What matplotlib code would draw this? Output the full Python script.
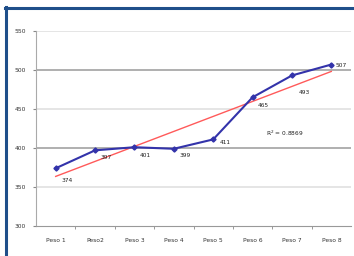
import numpy as np
import matplotlib
matplotlib.use("Agg")
from matplotlib import pyplot as plt
from matplotlib.lines import Line2D

# data
labels = ["Peso 1", "Peso2", "Peso 3", "Peso 4", "Peso 5", "Peso 6", "Peso 7", "Peso 8"]
values = [374, 397, 401, 399, 411, 465, 493, 507]
y_ticks = [300, 350, 400, 450, 500, 550]

x = np.arange(1, len(values) + 1)
y = np.array(values, dtype=float)

# linear trend line + R^2
slope, icpt = np.polyfit(x, y, 1)
fit = slope * x + icpt
r2 = 1 - ((y - fit) ** 2).sum() / ((y - y.mean()) ** 2).sum()

fig = plt.figure(figsize=(3.54, 2.56), dpi=100)
ax = fig.add_axes([36 / 354, 1 - 226 / 256, 315 / 354, 195 / 256])

# gridlines
for t in y_ticks[1:]:
    c = "#9a9a9a" if t % 100 == 0 else "#dedede"
    ax.axhline(t, color=c, lw=1.1, zorder=0)

ax.plot(x, fit, color="#ff5a5a", lw=1.0, zorder=2)
ax.plot(x, y, color="#3333aa", lw=1.5, marker="D", ms=2.6, zorder=3)

offsets = [(4, -9), (4, -5), (4, -6), (4, -5), (5, -2), (4, -6), (5, -12), (3, -1)]
for xi, yi, (dx, dy) in zip(x, values, offsets):
    ax.annotate(str(yi), (xi, yi), xytext=(dx, dy), textcoords="offset points",
                fontsize=4.2, color="#222222", ha="left", va="center")

ax.text(6.35, 415, "R$^2$ = %.4f" % r2, fontsize=4.2, color="#222222")

ax.set_xlim(0.5, len(values) + 0.5)
ax.set_ylim(300, 550)
ax.set_yticks(y_ticks)
ax.set_yticklabels([str(t) for t in y_ticks], fontsize=4.3, color="#333333")
ax.set_xticks(x)
ax.set_xticklabels(labels, fontsize=4.3, color="#333333")
ax.set_xticks(np.arange(1.5, len(values), 1), minor=True)
ax.tick_params(axis="x", which="major", length=0, pad=9)
ax.tick_params(axis="x", which="minor", length=2, color="#888888")
ax.tick_params(axis="y", length=2, color="#888888", pad=5)
for s in ["top", "right"]:
    ax.spines[s].set_visible(False)
ax.spines["left"].set_color("#aaaaaa")
ax.spines["bottom"].set_color("#999999")

# blue frame (left + top)
fig.add_artist(Line2D([6 / 354, 6 / 354], [0, 1 - 7 / 256], color="#1f4f8a", lw=2.2,
                      transform=fig.transFigure))
fig.add_artist(Line2D([5 / 354, 1], [1 - 8 / 256, 1 - 8 / 256], color="#1f4f8a", lw=2.2,
                      transform=fig.transFigure))

fig.savefig("out.png", dpi=100)
